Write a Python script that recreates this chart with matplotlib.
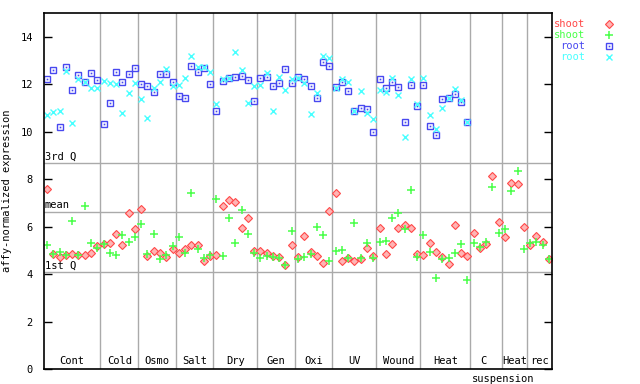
import matplotlib
matplotlib.use("Agg")
import matplotlib.pyplot as plt
import numpy as np

# groups along x (name, number of samples)
groups = ["Cont", "Cold", "Osmo", "Salt", "Dry", "Gen", "Oxi", "UV", "Wound", "Heat", "C", "Heat", "rec"]
group_sizes = [9, 6, 6, 6, 7, 6, 6, 7, 7, 8, 5, 4, 4]

# reference lines
q3, mean_line, q1 = 8.67, 6.61, 4.08

shoot1 = [7.58, 4.84, 4.72, 4.80, 4.84, 4.80, 4.80, 4.89, 5.18,
          5.27, 5.31, 5.69, 5.22, 6.57, 5.90,
          6.74, 4.76, 4.97, 4.89, 4.72, 5.05,
          4.89, 5.05, 5.22, 5.22, 4.55, 4.76,
          4.80, 6.87, 7.12, 7.03, 5.94, 6.36, 4.97,
          4.97, 4.89, 4.76, 4.72, 4.38, 5.22,
          4.72, 5.60, 4.93, 4.76, 4.47, 6.66,
          7.41, 4.55, 4.68, 4.55, 4.63, 5.10, 4.76,
          5.94, 4.84, 5.27, 5.94, 6.07, 5.94, 4.84,
          4.80, 5.31, 4.93, 4.72, 4.42, 6.07, 4.89, 4.76,
          5.73, 5.10, 5.27, 8.13, 6.19,
          5.56, 7.83, 7.79, 5.98,
          5.22, 5.60, 5.35, 4.63]

shoot2 = [5.24, 4.84, 4.93, 4.80, 6.23, 4.80, 6.87, 5.31, 5.10,
          5.27, 4.89, 4.80, 5.64, 5.35, 5.56,
          6.11, 4.84, 5.69, 4.63, 4.80, 5.18,
          5.56, 4.89, 7.41, 5.05, 4.68, 4.80,
          7.17, 4.76, 6.36, 5.31, 6.70, 5.69, 4.89,
          4.68, 4.76, 4.72, 4.68, 4.38, 5.81,
          4.63, 4.72, 4.84, 5.98, 5.64, 4.55,
          4.97, 5.01, 4.68, 6.15, 4.68, 5.31, 4.68,
          5.35, 5.39, 6.36, 6.57, 5.90, 7.54, 4.72,
          5.64, 4.93, 3.83, 4.63, 4.68, 4.89, 5.27, 3.75,
          5.31, 5.14, 5.35, 7.67, 5.73,
          5.90, 7.50, 8.34, 5.05,
          5.31, 5.35, 5.22, 4.63]

root1 = [12.22, 12.59, 10.19, 12.72, 11.75, 12.38, 12.09, 12.47, 12.17,
         10.32, 11.20, 12.51, 12.09, 12.43, 12.68,
         12.00, 11.92, 11.67, 12.43, 12.43, 12.09,
         11.50, 11.42, 12.76, 12.51, 12.68, 12.00,
         10.87, 12.13, 12.26, 12.30, 12.34, 12.17, 11.29,
         12.26, 12.30, 11.92, 12.05, 12.64, 12.05,
         12.30, 12.22, 11.92, 11.42, 12.93, 12.76,
         11.88, 12.09, 11.71, 10.87, 10.99, 10.95, 9.98,
         12.22, 11.84, 12.09, 11.88, 10.40, 11.96, 11.08,
         11.96, 10.24, 9.86, 11.37, 11.42, 11.58, 11.25, 10.43]

root2 = [10.70, 10.83, 10.88, 12.55, 10.36, 12.22, 12.09, 11.84, 11.84,
         12.13, 12.05, 12.00, 10.78, 11.63, 12.05,
         11.37, 10.57, 11.84, 12.09, 12.64, 11.92,
         11.96, 12.26, 13.18, 12.72, 12.72, 12.51,
         11.16, 12.22, 12.26, 13.35, 12.59, 11.20, 11.92,
         11.96, 12.47, 10.87, 12.30, 11.75, 12.22,
         12.26, 12.05, 10.74, 11.63, 13.18, 13.10,
         11.84, 12.22, 12.09, 10.87, 11.71, 10.78, 10.53,
         11.75, 11.67, 12.26, 11.54, 9.77, 12.22, 11.16,
         12.26, 10.70, 10.11, 10.99, 11.42, 11.79, 11.33, 10.43]

RED = "#ff4848"
GREEN = "#48ff48"
BLUE = "#4848f0"
CYAN = "#48ffff"
GRID = "#aaaaaa"

plt.rcParams["font.family"] = "DejaVu Sans Mono"
plt.rcParams["font.size"] = 7.5

fig = plt.figure(figsize=(6.4, 3.84), dpi=100)
ax = fig.add_axes([44 / 640, 14.7 / 384, 508 / 640, 356.3 / 384])

n = sum(group_sizes)
xs = np.arange(n) + 0.5
xr = np.arange(len(root1)) + 0.5

# quartile / mean lines
for v in (q3, mean_line, q1):
    ax.axhline(v, color=GRID, lw=1, zorder=1)

# group separators
bounds = np.cumsum(group_sizes)
for b in bounds[:-1]:
    ax.axvline(b, color=GRID, lw=1, zorder=1)

ax.plot(xs, shoot1, ls="none", marker="D", ms=4.0, mfc="#ffb4b4", mec=RED, mew=0.8, zorder=3)
ax.plot(xs, shoot2, ls="none", marker="+", ms=6, mec=GREEN, mew=1.1, zorder=4)
ax.plot(xr, root1, ls="none", marker="s", ms=4.4, mfc="none", mec=BLUE, mew=1.0, zorder=3)
ax.plot(xr, root1, ls="none", marker="s", ms=1.2, mfc=BLUE, mec=BLUE, mew=0, zorder=3)
ax.plot(xr, root2, ls="none", marker="x", ms=4.4, mec=CYAN, mew=1.0, zorder=4)

ax.set_xlim(0, n)
ax.set_ylim(0, 15)
ax.set_yticks(range(0, 15, 2))
ax.set_xticks([])
ax.tick_params(axis="y", direction="in", length=6, width=1, pad=8, right=True, labelsize=7.5)
for s in ax.spines.values():
    s.set_linewidth(1.2)
    s.set_zorder(5)

ax.set_ylabel("affy-normalized expression")
ax.yaxis.set_label_coords(-32 / 508, 0.5)

# line labels
ax.text(0.15, q3 + 0.08, "3rd Q", ha="left", va="bottom")
ax.text(0.15, mean_line + 0.08, "mean", ha="left", va="bottom")
ax.text(0.15, q1 + 0.08, "1st Q", ha="left", va="bottom")

# group names inside the bottom of the axes
starts = np.concatenate([[0], bounds[:-1]])
for name, s, size in zip(groups, starts, group_sizes):
    cx = s + size / 2
    if name == "C":
        cx = s + 2.0
    ax.text(cx, 0.15, name, ha="center", va="bottom")
ax.text(starts[10] + 5.2, -0.2, "suspension", ha="center", va="top", clip_on=False)

# legend at the right, outside the axes
leg = [("shoot", RED), ("shoot", GREEN), ("root", BLUE), ("root", CYAN)]
for k, (lab, c) in enumerate(leg):
    yy = 1 - (24 + 11 * k) / 384
    fig.text(585 / 640, yy, lab, color=c, ha="right", va="center", fontsize=7.5)
lx = 609 / 640
fig.lines.append(plt.Line2D([lx], [1 - 24 / 384], transform=fig.transFigure, ls="none",
                            marker="D", ms=4.0, mfc="#ffb4b4", mec=RED, mew=0.8))
fig.lines.append(plt.Line2D([lx], [1 - 35 / 384], transform=fig.transFigure, ls="none",
                            marker="+", ms=6, mec=GREEN, mew=1.1))
fig.lines.append(plt.Line2D([lx], [1 - 46 / 384], transform=fig.transFigure, ls="none",
                            marker="s", ms=4.4, mfc="none", mec=BLUE, mew=1.0))
fig.lines.append(plt.Line2D([lx], [1 - 46 / 384], transform=fig.transFigure, ls="none",
                            marker="s", ms=1.2, mfc=BLUE, mec=BLUE, mew=0))
fig.lines.append(plt.Line2D([lx], [1 - 57 / 384], transform=fig.transFigure, ls="none",
                            marker="x", ms=4.4, mec=CYAN, mew=1.0))

fig.savefig("out.png", dpi=100)
